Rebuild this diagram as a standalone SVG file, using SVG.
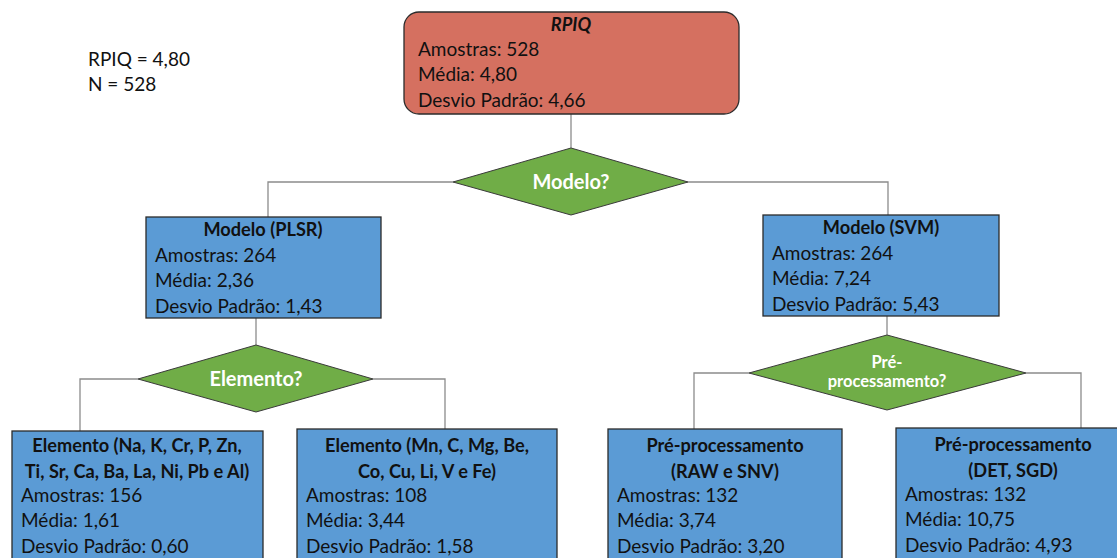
<svg xmlns="http://www.w3.org/2000/svg" width="1117" height="558" viewBox="0 0 1117 558">
<style>
text{font-family:Lato,"Open Sans","Liberation Sans",sans-serif;font-size:19px;fill:#111}
.t{font-weight:bold;text-anchor:middle;font-size:18.2px}
.d{font-weight:bold;fill:#fff;text-anchor:middle;font-size:20px}
.ds{font-weight:bold;fill:#fff;text-anchor:middle;font-size:16.5px}
.box{fill:#5B9BD5;stroke:#2b2b2b;stroke-width:1.3}
.dia{fill:#70AD47;stroke:#3a3a3a;stroke-width:1}
.c{fill:none;stroke:#8c8c8c;stroke-width:1.3}
</style>
<rect width="1117" height="558" fill="#fff"/>
<g id="connectors">
<path class="c" d="M571,114V148"/>
<path class="c" d="M453,182H268V217M688,182H888V215"/>
<path class="c" d="M256,318V345"/>
<path class="c" d="M138,379H80V431M373,379H445V429"/>
<path class="c" d="M887,316V335"/>
<path class="c" d="M749,373H694V430M1026,373H1081V428"/>
</g>
<g id="legend">
<text x="88" y="66">RPIQ = 4,80</text>
<text x="88" y="91">N = 528</text>
</g>
<g id="root">
<rect x="404" y="12" width="335" height="102" rx="15" fill="#D57060" stroke="#2b2b2b" stroke-width="1.3"/>
<text class="t" x="571" y="31" font-style="italic">RPIQ</text>
<text x="418" y="56">Amostras: 528</text>
<text x="418" y="81">Média: 4,80</text>
<text x="418" y="107">Desvio Padrão: 4,66</text>
</g>
<g id="q-modelo">
<polygon class="dia" points="571,148 688,182 571,215 453,182"/>
<text class="d" x="571" y="189">Modelo?</text>
</g>
<g id="plsr">
<rect class="box" x="146" y="217" width="235" height="101"/>
<text class="t" x="263" y="236">Modelo (PLSR)</text>
<text x="155" y="262">Amostras: 264</text>
<text x="155" y="287">Média: 2,36</text>
<text x="155" y="313">Desvio Padrão: 1,43</text>
</g>
<g id="svm">
<rect class="box" x="763" y="215" width="236" height="101"/>
<text class="t" x="881" y="234">Modelo (SVM)</text>
<text x="772" y="260">Amostras: 264</text>
<text x="772" y="285">Média: 7,24</text>
<text x="772" y="311">Desvio Padrão: 5,43</text>
</g>
<g id="q-elemento">
<polygon class="dia" points="256,345 373,379 256,412 138,379"/>
<text class="d" x="256" y="386">Elemento?</text>
</g>
<g id="q-pre">
<polygon class="dia" points="887,335 1026,373 887,410 749,373"/>
<text class="ds" x="887" y="368">Pré-</text>
<text class="ds" x="887" y="387">processamento?</text>
</g>
<g id="elem1">
<rect class="box" x="12" y="431" width="251" height="140"/>
<text class="t" x="137" y="452">Elemento (Na, K, Cr, P, Zn,</text>
<text class="t" x="137" y="478">Ti, Sr, Ca, Ba, La, Ni, Pb e Al)</text>
<text x="21" y="502">Amostras: 156</text>
<text x="21" y="527">Média: 1,61</text>
<text x="21" y="553">Desvio Padrão: 0,60</text>
</g>
<g id="elem2">
<rect class="box" x="297" y="429" width="260" height="140"/>
<text class="t" x="427" y="452">Elemento (Mn, C, Mg, Be,</text>
<text class="t" x="427" y="478">Co, Cu, Li, V e Fe)</text>
<text x="306" y="502">Amostras: 108</text>
<text x="306" y="527">Média: 3,44</text>
<text x="306" y="553">Desvio Padrão: 1,58</text>
</g>
<g id="pre1">
<rect class="box" x="608" y="429" width="234" height="140"/>
<text class="t" x="725" y="452">Pré-processamento</text>
<text class="t" x="725" y="478">(RAW e SNV)</text>
<text x="617" y="502">Amostras: 132</text>
<text x="617" y="527">Média: 3,74</text>
<text x="617" y="553">Desvio Padrão: 3,20</text>
</g>
<g id="pre2">
<rect class="box" x="896" y="428" width="240" height="140"/>
<text class="t" x="1013" y="451">Pré-processamento</text>
<text class="t" x="1013" y="477">(DET, SGD)</text>
<text x="905" y="501">Amostras: 132</text>
<text x="905" y="526">Média: 10,75</text>
<text x="905" y="552">Desvio Padrão: 4,93</text>
</g>
</svg>
